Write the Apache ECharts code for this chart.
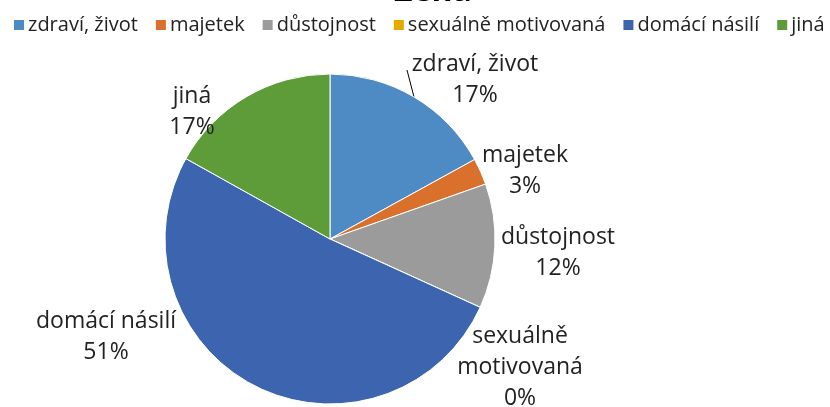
<!DOCTYPE html>
<html>
<head>
<meta charset="utf-8">
<script src="https://cdn.jsdelivr.net/npm/echarts@6/dist/echarts.min.js"></script>
<style>html,body{margin:0;padding:0;background:#fff}#c{width:830px;height:407px}</style>
</head>
<body>
<div id="c"></div>
<script>
const titleText = "Žena";
const categories = ["zdraví, život", "majetek", "důstojnost", "sexuálně motivovaná", "domácí násilí", "jiná"];
const labelNames = ["zdraví, život", "majetek", "důstojnost", "sexuálně\nmotivovaná", "domácí násilí", "jiná"];
const values = [17.0, 2.6, 12.2, 0, 51.3, 16.9];
const colors = ["#4E8AC4", "#D9702C", "#9B9B9B", "#E5AA00", "#3D64AE", "#5E9C3A"];
const labelPos = [[475, 80], [525, 171], [558, 253], [520, 367], [106, 337], [192, 112]];

const chart = echarts.init(document.getElementById('c'), null, {renderer: 'canvas'});
const FONT = "'Open Sans', 'Noto Sans', sans-serif";
chart.setOption({
  animation: false,
  color: colors,
  title: {
    text: titleText, left: 428, textAlign: 'center', top: -29,
    textStyle: {fontSize: 32, fontWeight: 'bold', color: '#000', fontFamily: FONT}
  },
  legend: {
    left: 12, top: 15, width: 2000, itemWidth: 12, itemHeight: 12, itemGap: 16,
    icon: 'rect', padding: 0,
    textStyle: {fontSize: 20, color: '#222', fontFamily: FONT, padding: [0, 0, 0, -2]},
    data: categories
  },
  series: [{
    type: 'pie',
    center: [330, 239],
    radius: 165,
    startAngle: 90,
    clockwise: true,
    stillShowZeroSum: true,
    minShowLabelAngle: 0,
    avoidLabelOverlap: false,
    label: {
      show: true,
      position: 'outside',
      formatter: p => labelNames[p.dataIndex] + '\n' + Math.round(p.percent) + '%',
      fontSize: 23, lineHeight: 31, color: '#222', fontFamily: FONT, align: 'center'
    },
    labelLine: {show: false},
    labelLayout: function (params) {
      const i = params.dataIndex;
      const p = labelPos[i];
      const out = {x: p[0], y: p[1], align: 'center', verticalAlign: 'middle'};
      if (i === 0 && params.labelLinePoints) {
        const s = params.labelLinePoints[0];
        const e = [p[0] - 68, p[1] - 10];
        out.labelLinePoints = [s, e, e];
      }
      return out;
    },
    itemStyle: {borderColor: '#fff', borderWidth: 1},
    data: categories.map((c, i) => ({
      name: c, value: values[i],
      labelLine: i === 0 ? {show: true, length: 5, length2: 0, lineStyle: {color: '#000', width: 1}} : {show: false}
    }))
  }]
});
</script>
</body>
</html>
